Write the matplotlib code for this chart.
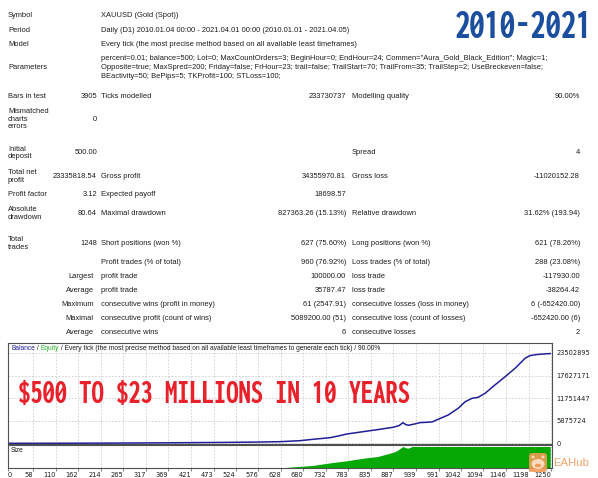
import numpy as np
import matplotlib
matplotlib.use('Agg')
import matplotlib.pyplot as plt
from matplotlib import font_manager
from matplotlib.font_manager import FontProperties
from matplotlib.patches import FancyBboxPatch, Ellipse

W, H = 598, 478

installed = {f.name for f in font_manager.fontManager.ttflist}
BODY = 'Liberation Sans' if 'Liberation Sans' in installed else 'DejaVu Sans'


def pick_condensed():
    files = [f.fname for f in font_manager.fontManager.ttflist]
    for key in ['NotoSans-ExtraCondensedExtraBold', 'NotoSans-ExtraCondensedBlack',
                'NotoSans-ExtraCondensedBold', 'NotoSans-CondensedExtraBold',
                'NotoSans-CondensedBold', 'ExtraCondensedExtraBold', 'ExtraCondensedBold',
                'CondensedBold', 'Condensed-Bold', 'Narrow-Bold', 'NarrowBold']:
        for fn in files:
            base = fn.split('/')[-1]
            if base.startswith(key) or (key in base and 'Italic' not in base
                                        and 'Mono' not in base):
                if 'Italic' not in base:
                    return FontProperties(fname=fn)
    return FontProperties(family=BODY, weight='bold')


CONDENSED = pick_condensed()

# ---------------- report text ----------------
info_labels = ["Symbol", "Period", "Model"]
info_values = [
    "XAUUSD (Gold (Spot))",
    "Daily (D1) 2010.01.04 00:00 - 2021.04.01 00:00 (2010.01.01 - 2021.04.05)",
    "Every tick (the most precise method based on all available least timeframes)",
]
param_lines = [
    'percent=0.01; balance=500; Lot=0; MaxCountOrders=3; BeginHour=0; EndHour=24; Commen="Aura_Gold_Black_Edition"; Magic=1;',
    'Opposite=true; MaxSpred=200; Friday=false; FrHour=23; trail=false; TrailStart=70; TrailFrom=35; TrailStep=2; UseBreckeven=false;',
    'BEactivity=50; BePips=5; TKProfit=100; STLoss=100;',
]
stats = [
    ("Bars in test", "3905", "Ticks modelled", "233730737", "Modelling quality", "90.00%"),
    ("Mismatched\ncharts\nerrors", "0", "", "", "", ""),
    ("Initial\ndeposit", "500.00", "", "", "Spread", "4"),
    ("Total net\nprofit", "23335818.54", "Gross profit", "34355970.81", "Gross loss", "-11020152.28"),
    ("Profit factor", "3.12", "Expected payoff", "18698.57", "", ""),
    ("Absolute\ndrawdown", "80.64", "Maximal drawdown", "827363.26 (15.13%)", "Relative drawdown", "31.62% (193.94)"),
    ("Total\ntrades", "1248", "Short positions (won %)", "627 (75.60%)", "Long positions (won %)", "621 (78.26%)"),
]
trade_rows = [
    ("", "Profit trades (% of total)", "960 (76.92%)", "Loss trades (% of total)", "288 (23.08%)"),
    ("Largest", "profit trade", "100000.00", "loss trade", "-117930.00"),
    ("Average", "profit trade", "35787.47", "loss trade", "-38264.42"),
    ("Maximum", "consecutive wins (profit in money)", "61 (2547.91)", "consecutive losses (loss in money)", "6 (-652420.00)"),
    ("Maximal", "consecutive profit (count of wins)", "5089200.00 (51)", "consecutive loss (count of losses)", "-652420.00 (6)"),
    ("Average", "consecutive wins", "6", "consecutive losses", "2"),
]

# ---------------- chart data ----------------
bal_trade = [0, 100, 200, 327, 420, 511, 580, 626, 672, 702, 741, 760, 780, 817, 856,
             886, 900, 909, 915, 921, 935, 948, 976, 990, 1013, 1036, 1052, 1068, 1082,
             1098, 1121, 1144, 1167, 1190, 1201, 1215, 1229, 1248]
bal_value = [500, 10000, 40000, 100000, 170000, 250000, 330000, 420000, 680000, 1040000,
             1460000, 1900000, 2420000, 3020000, 3640000, 4160000, 4600000, 5370000,
             4900000, 4680000, 5000000, 5370000, 5550000, 6240000, 7360000, 9100000,
             10800000, 11700000, 11960000, 13000000, 15200000, 17300000, 19500000,
             22100000, 22800000, 23050000, 23200000, 23336318]
size_trade = [0, 640, 649, 702, 741, 780, 817, 850, 870, 886, 895, 909, 915, 921, 930, 1248]
size_lots = [0, 0, 2, 10, 22, 32, 44, 52, 63, 72, 80, 100, 94, 92, 100, 100]

x_ticks = [0, 58, 110, 162, 214, 265, 317, 369, 421, 473, 524, 576, 628, 680, 732,
           783, 835, 887, 939, 991, 1042, 1094, 1146, 1198, 1250]
y_ticks = [0, 5875724, 11751447, 17627171, 23502895]

TXT = '#1c1c1c'
NAVY = '#1f1f98'
GREEN = '#05a805'

fig = plt.figure(figsize=(W / 100, H / 100), dpi=100)
fig.patch.set_facecolor('white')
renderer = fig.canvas.get_renderer()


def fit_size(s, target_w, **kw):
    t = fig.text(0, 0, s, fontsize=10, parse_math=False, **kw)
    w = t.get_window_extent(renderer).width
    t.remove()
    return 10 * target_w / w


FS = fit_size(info_values[2], 254, family=BODY)
FS_CHART = fit_size("Balance / Equity / Every tick (the most precise method based on all "
                    "available least timeframes to generate each tick) / 90.00%", 370,
                    family=BODY)

# ---------------- chart panels ----------------
ax = fig.add_axes([8 / W, 1 - 444 / H, 544 / W, 101 / H])
ax.plot(bal_trade, bal_value, color=NAVY, lw=1.1)
ax.set_xlim(0, 1252)
ax.set_ylim(-180000, 26080000)
ax.set_xticks(x_ticks)
ax.set_yticks(y_ticks)
ax.set_yticklabels([str(v) for v in y_ticks])
ax.grid(True, color='#cccccc', ls=(0, (2, 2)), lw=0.6)
ax.set_axisbelow(True)
ax.tick_params(length=0, labelbottom=False, labelleft=False, labelright=True,
               labelsize=FS_CHART, pad=3, colors=TXT)
for sp in ax.spines.values():
    sp.set_color('#505050')
    sp.set_linewidth(0.8)

ax2 = fig.add_axes([8 / W, 1 - 468 / H, 544 / W, 23 / H])
ax2.fill_between(size_trade, size_lots, color=GREEN, lw=0)
ax2.set_xlim(0, 1252)
ax2.set_ylim(-2.4, 107)
ax2.set_xticks(x_ticks)
ax2.set_yticks([])
ax2.grid(True, axis='x', color='#cccccc', ls=(0, (2, 2)), lw=0.6)
ax2.set_axisbelow(True)
ax2.tick_params(axis='x', length=2, width=0.6, color='#707070', labelsize=FS_CHART,
                pad=1, colors=TXT)
ax2.set_xticklabels([str(v) for v in x_ticks])
for i, lab in enumerate(ax2.get_xticklabels()):
    lab.set_ha('left' if i == 0 else 'right')
for sp in ax2.spines.values():
    sp.set_color('#505050')
    sp.set_linewidth(0.8)

# ---------------- overlay in pixel coordinates ----------------
ov = fig.add_axes([0, 0, 1, 1], zorder=5)
ov.set_xlim(0, W)
ov.set_ylim(H, 0)
ov.axis('off')


def put(x, y, s, ha='left', color=TXT, fs=None, ls=1.05):
    return ov.text(x, y, s, ha=ha, va='center', fontsize=fs or FS, family=BODY,
                   color=color, linespacing=ls, parse_math=False)


L_X, V_X, M_X, MV_X, R_X, RV_X = 8, 97, 101, 346, 352, 580

for lab, val, y in zip(info_labels, info_values, [15, 30, 44]):
    put(L_X, y, lab)
    put(M_X, y, val)
put(L_X, 67, "Parameters")
for line, y in zip(param_lines, [58, 67, 76]):
    put(M_X, y, line)

for row, y in zip(stats, [96, 119, 153, 176.5, 195, 213.5, 243.5]):
    a, b, c, d, e, f = row
    put(L_X, y, a)
    put(V_X, y, b, ha='right')
    put(M_X, y, c)
    put(MV_X, y, d, ha='right')
    put(R_X, y, e)
    put(RV_X, y, f, ha='right')

for row, y in zip(trade_rows, [262, 277, 290, 304, 318, 332]):
    a, c, d, e, f = row
    put(94, y, a, ha='right')
    put(M_X, y, c)
    put(MV_X, y, d, ha='right')
    put(R_X, y, e)
    put(RV_X, y, f, ha='right')

# chart caption
x = 11
for s, c in [("Balance", NAVY), (" / ", TXT), ("Equity", '#2db52d'),
             (" / Every tick (the most precise method based on all available least "
              "timeframes to generate each tick) / 90.00%", TXT)]:
    t = put(x, 349, s, color=c, fs=FS_CHART)
    x += t.get_window_extent(renderer).width
put(11, 451, "Size", fs=FS_CHART)

# headlines
head = "$500 TO $23 MILLIONS IN 10 YEARS"
ov.text(18, 394, head, ha='left', va='center', color='#e8212a', fontproperties=CONDENSED,
        fontsize=fit_size(head, 392, fontproperties=CONDENSED), parse_math=False)
years = "2010-2021"
ov.text(455, 27, years, ha='left', va='center', color='#1b4e9e', fontproperties=CONDENSED,
        fontsize=fit_size(years, 138, fontproperties=CONDENSED), parse_math=False)

# EAHub watermark
ov.add_patch(FancyBboxPatch((529, 453), 18, 19, boxstyle='round,pad=0,rounding_size=3',
                            fc='#f39a55', ec='none', alpha=0.9))
ov.add_patch(Ellipse((538, 464), 13, 10, fc='#fbd9bd', ec='none'))
ov.add_patch(Ellipse((538, 465.5), 6, 3.5, fc='#f39a55', ec='none'))
ov.add_patch(Ellipse((533, 457), 3, 3, fc='#fbd9bd', ec='none'))
ov.add_patch(Ellipse((543, 457), 3, 3, fc='#fbd9bd', ec='none'))
ov.text(553, 463, "EAHub", ha='left', va='center', color='#f2a46c', family=BODY,
        fontsize=fit_size("EAHub", 36, family=BODY))

fig.savefig('out.png', dpi=100, facecolor='white')
